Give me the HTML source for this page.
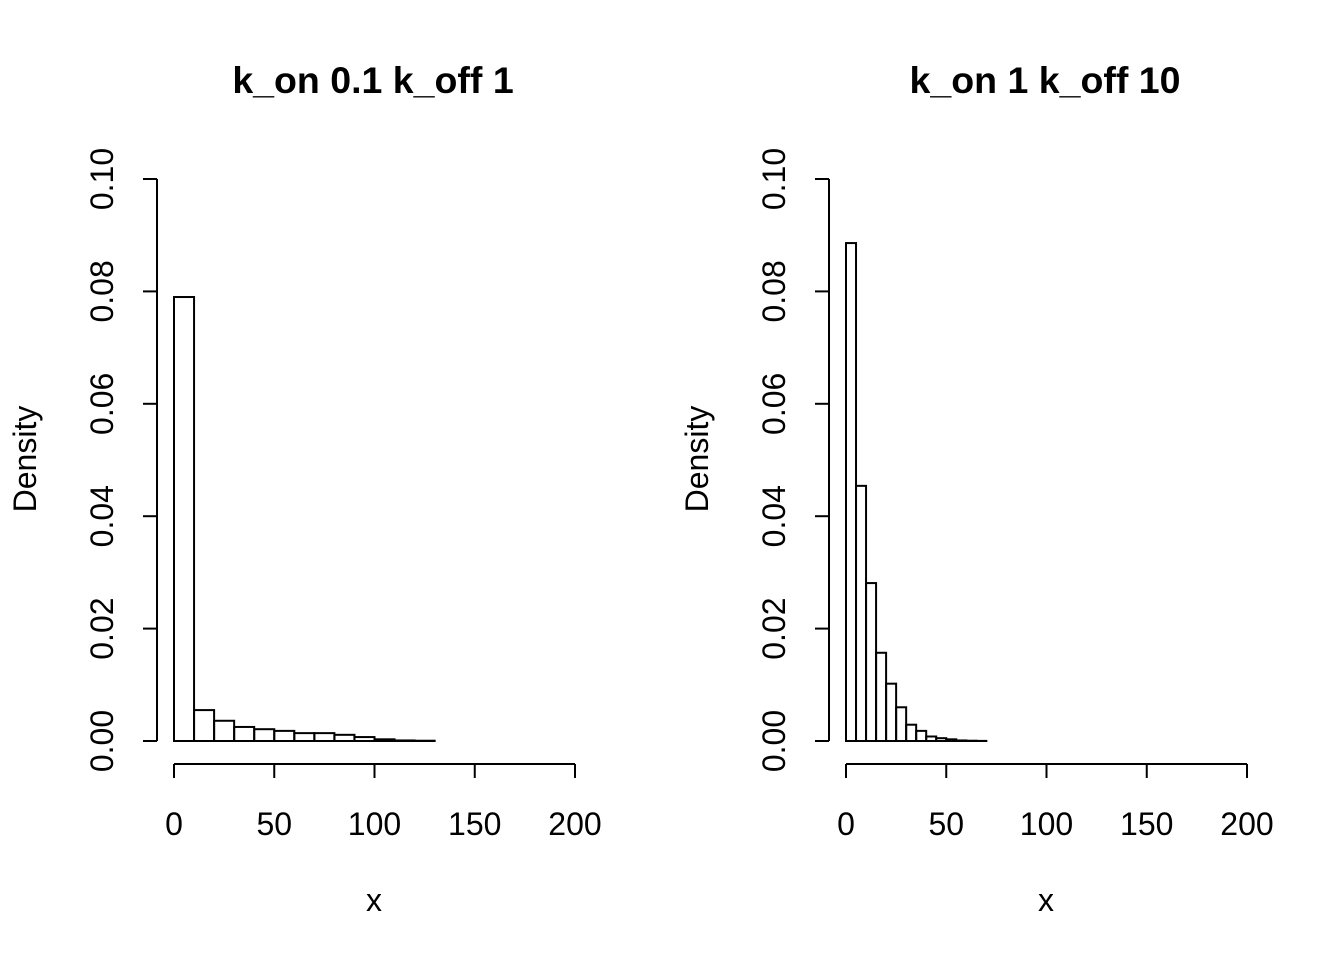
<!DOCTYPE html>
<html><head><meta charset="utf-8"><style>body{margin:0;background:#fff}svg{display:block}text{font-family:"Liberation Sans",Arial,sans-serif;fill:#000}</style></head>
<body>
<svg id="c" width="1344" height="960"></svg>
<script>
const leftBreaks=[0,10,20,30,40,50,60,70,80,90,100,110,120,130];
const leftDensity=[0.079,0.0055,0.0036,0.0025,0.0021,0.0018,0.0014,0.0014,0.0011,0.0007,0.0003,0.0001,0.00005];
const rightBreaks=[0,5,10,15,20,25,30,35,40,45,50,55,60,65,70];
const rightDensity=[0.0886,0.0454,0.0281,0.0157,0.0102,0.006,0.0029,0.0018,0.0008,0.0005,0.0003,0.0001,0.00005,0.00002];
const xTicks=[0,50,100,150,200];
const yTicks=[0,0.02,0.04,0.06,0.08,0.10];
const yTickLabels=["0.00","0.02","0.04","0.06","0.08","0.10"];
const titles=["k_on 0.1 k_off 1","k_on 1 k_off 10"];
const svg=document.getElementById('c');const NS='http://www.w3.org/2000/svg';
function mk(t,a,txt){const e=document.createElementNS(NS,t);for(const k in a)e.setAttribute(k,a[k]);if(txt!==undefined)e.textContent=txt;svg.appendChild(e);return e;}
function panel(off,breaks,dens,title,id){
 const sx=v=>174+off+v*(401/200), sy=v=>741-v*5620;
 let e=mk('text',{x:373+off,y:93,'text-anchor':'middle','font-size':37.5,'font-weight':'bold'},title);
 
 
 for(let i=0;i<dens.length;i++){
  const r=mk('rect',{x:sx(breaks[i]),y:sy(dens[i]),width:sx(breaks[i+1])-sx(breaks[i]),height:sy(0)-sy(dens[i]),fill:'none',stroke:'#000','stroke-width':2});
  
  
 }
 const ax=157+off;
 e=mk('line',{x1:ax,x2:ax,y1:sy(0.1),y2:sy(0),stroke:'#000','stroke-width':2});
 
 
 yTicks.forEach((v,i)=>{mk('line',{x1:ax-14,x2:ax,y1:sy(v),y2:sy(v),stroke:'#000','stroke-width':2});
  const t=mk('text',{x:0,y:0,transform:`translate(${ax-44},${sy(v)}) rotate(-90)`,'text-anchor':'middle','font-size':32},yTickLabels[i]);
  
  });
 e=mk('line',{x1:sx(0),x2:sx(200),y1:764,y2:764,stroke:'#000','stroke-width':2});
 
 
 xTicks.forEach(v=>{mk('line',{x1:sx(v),x2:sx(v),y1:764,y2:778,stroke:'#000','stroke-width':2});
  const t=mk('text',{x:sx(v),y:835,'text-anchor':'middle','font-size':32},String(v));
  
  });
 e=mk('text',{x:374+off,y:911,'text-anchor':'middle','font-size':32},'x');
 
 
 e=mk('text',{x:0,y:0,transform:`translate(${36+off},459) rotate(-90)`,'text-anchor':'middle','font-size':32},'Density');
 
 
}
panel(0,leftBreaks,leftDensity,titles[0],'left');
panel(672,rightBreaks,rightDensity,titles[1],'right');
</script>
</body></html>
